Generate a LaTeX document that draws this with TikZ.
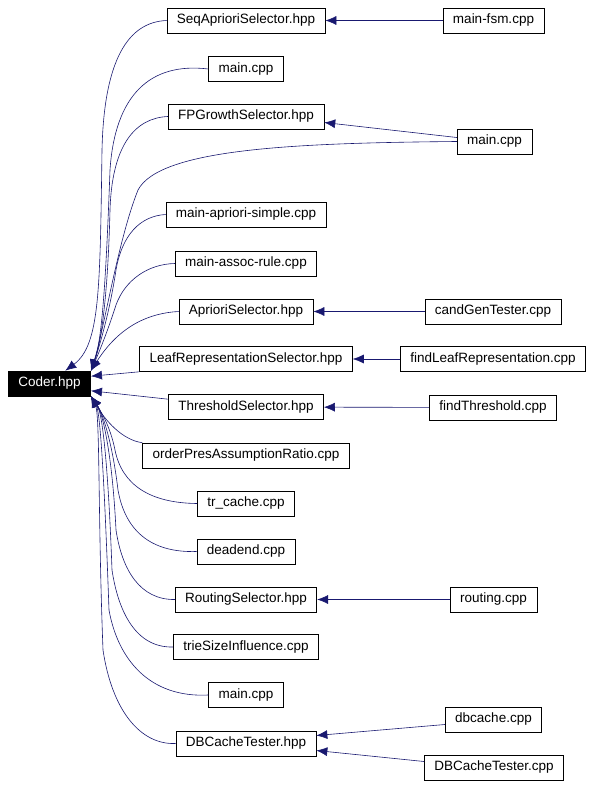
\documentclass[tikz,border=0pt]{standalone}
\usepackage{fontspec}
\setmainfont{Liberation Sans}
\usetikzlibrary{arrows.meta}

\definecolor{depblue}{HTML}{191970}

\tikzset{
  file/.style={draw=black, fill=white, line width=0.6pt, minimum height=25,
    inner xsep=10, font=\fontsize{13.5}{16}\selectfont},
  dep/.style={draw=depblue, line width=0.6pt, -{Latex[length=11pt,width=9pt]}}
}

\begin{document}
\begin{tikzpicture}[x=1pt, y=-1pt]
    \useasboundingbox (0,0) rectangle (594,786);

    % the included header
    \node[file, fill=black, text=white] (coder) at (49.5,383.5) {Coder.hpp};

    % files that include it
    \node[file] (seqsel)    at (246,20.5)  {SeqAprioriSelector.hpp};
    \node[file] (mainA)     at (246,69)    {main.cpp};
    \node[file] (fpsel)     at (246,116.5) {FPGrowthSelector.hpp};
    \node[file] (aprsimple) at (246,214.5) {main-apriori-simple.cpp};
    \node[file] (assocrule) at (246,263.5) {main-assoc-rule.cpp};
    \node[file] (aprsel)    at (246,311.5) {AprioriSelector.hpp};
    \node[file] (leafsel)   at (246,359)   {LeafRepresentationSelector.hpp};
    \node[file] (thrsel)    at (246,407)   {ThresholdSelector.hpp};
    \node[file] (orderpres) at (246,455.5) {orderPresAssumptionRatio.cpp};
    \node[file] (trcache)   at (246,503.5) {tr\_cache.cpp};
    \node[file] (deadend)   at (246,551.5) {deadend.cpp};
    \node[file] (routesel)  at (246,599.5) {RoutingSelector.hpp};
    \node[file] (triesize)  at (246,647)   {trieSizeInfluence.cpp};
    \node[file] (mainC)     at (246,695)   {main.cpp};
    \node[file] (dbtester)  at (246,743.5) {DBCacheTester.hpp};

    % second level
    \node[file] (mainfsm)     at (493.5,20.5)  {main-fsm.cpp};
    \node[file] (mainB)       at (494.5,141.5) {main.cpp};
    \node[file] (candgen)     at (493,311.5)   {candGenTester.cpp};
    \node[file] (findleaf)    at (493,359)     {findLeafRepresentation.cpp};
    \node[file] (findthr)     at (493,407.5)   {findThreshold.cpp};
    \node[file] (routing)     at (493.5,599.5) {routing.cpp};
    \node[file] (dbcache)     at (493.5,719.5) {dbcache.cpp};
    \node[file] (dbtestercpp) at (494,767.5)   {DBCacheTester.cpp};

    % into the top of Coder.hpp
    \draw[dep] (seqsel.west) .. controls (128,22) and (104,60) .. (102,150)
        .. controls (100,290) and (100,345) .. (coder.39);
    \draw[dep] (mainA.west) .. controls (150,62) and (115,95) .. (110,170)
        .. controls (106,280) and (102,340) .. (coder.north east);
    \draw[dep] (fpsel.west) .. controls (135,118) and (112,145) .. (110,210)
        .. controls (108,290) and (102,340) .. (coder.north east);
    \draw[dep] (mainB.west) .. controls (300,143) and (160,148) .. (138,190)
        .. controls (118,240) and (104,330) .. (coder.north east);
    \draw[dep] (aprsimple.west) .. controls (140,216) and (122,235) .. (116,270)
        .. controls (110,310) and (100,345) .. (coder.north east);
    \draw[dep] (assocrule.west) .. controls (148,264) and (125,280) .. (116,305)
        .. controls (108,330) and (100,350) .. (coder.north east);
    \draw[dep] (aprsel.west) .. controls (150,313) and (120,325) .. (coder.north east);

    % into the side
    \draw[dep] (leafsel.south west) -- (coder.10);
    \draw[dep] ([yshift=-5]thrsel.north west) -- (coder.-10);

    % into the bottom
    \draw[dep] (orderpres.north west) .. controls (122,440) and (105,420) .. (coder.south east);
    \draw[dep] (trcache.west) .. controls (150,503) and (122,485) .. (115,450)
        .. controls (110,425) and (100,410) .. (coder.south east);
    \draw[dep] (deadend.west) .. controls (150,553) and (125,530) .. (118,490)
        .. controls (112,440) and (102,412) .. (coder.south east);
    \draw[dep] (routesel.west) .. controls (140,600) and (122,570) .. (116,530)
        .. controls (112,450) and (102,412) .. (coder.south east);
    \draw[dep] (triesize.west) .. controls (135,648) and (118,610) .. (112,570)
        .. controls (108,460) and (102,412) .. (coder.south east);
    \draw[dep] (mainC.west) .. controls (150,698) and (118,660) .. (109,610)
        .. controls (104,470) and (100,412) .. (coder.south east);
    \draw[dep] (dbtester.west) .. controls (140,745) and (112,710) .. (103,650)
        .. controls (98,520) and (100,415) .. (coder.south east);

    % second level edges
    \foreach \src/\dst in {mainfsm/seqsel, candgen/aprsel, findleaf/leafsel,
                           findthr/thrsel, routing/routesel}
        \draw[dep] (\src) -- (\dst);
    \draw[dep] ([yshift=4]mainB.west) -- ([yshift=-6]fpsel.east);
    \draw[dep] ([yshift=-5]dbcache.west) -- ([yshift=8]dbtester.east);
    \draw[dep] ([yshift=6]dbtestercpp.west) -- ([yshift=-7]dbtester.east);
\end{tikzpicture}
\end{document}
